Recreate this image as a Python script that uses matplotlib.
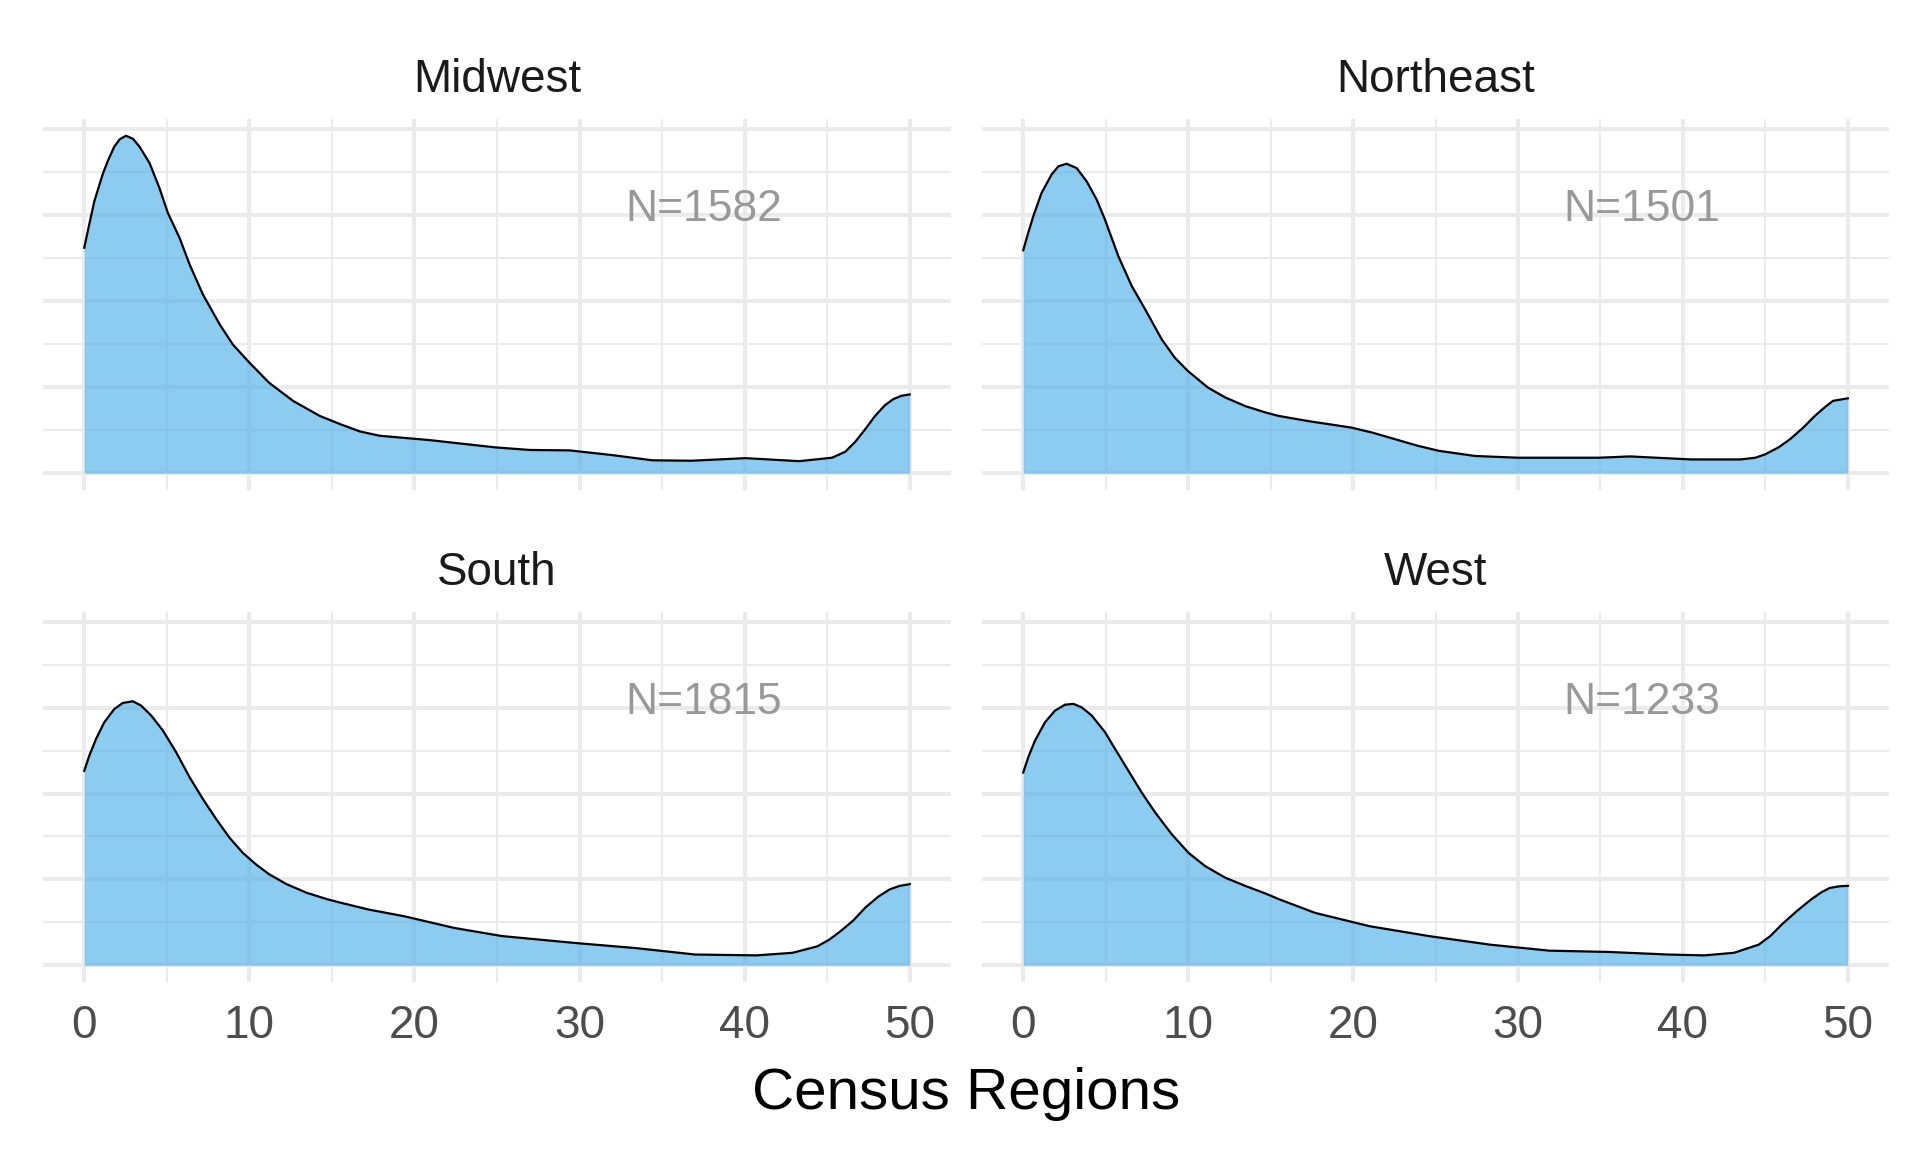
import numpy as np
import matplotlib
matplotlib.use("Agg")
import matplotlib.pyplot as plt

plt.rcParams['font.family'] = ['Liberation Sans', 'DejaVu Sans']

# density curves (x = value, d = density)
regions = ["Midwest", "Northeast", "South", "West"]
counts = [1582, 1501, 1815, 1233]

mw_x = [0, 0.30, 0.61, 1.11, 1.42, 1.82, 2.15, 2.53, 2.95, 3.34, 3.95, 4.55, 5.06, 5.77, 6.38,
        7.19, 8.2, 9.0, 10.0, 11.2, 12.65, 14.27, 15.5, 16.7, 17.9, 20.9, 24.9, 27.0, 29.4,
        32.0, 34.4, 36.8, 40.06, 43.3, 45.3, 46.1, 46.7, 47.3, 47.9, 48.5, 49.0, 49.5, 50]
mw_d = [0.0524, 0.0578, 0.0632, 0.0694, 0.0725, 0.0759, 0.0776, 0.0784, 0.0777, 0.0759, 0.0721,
        0.0663, 0.0605, 0.0547, 0.0485, 0.0415, 0.0346, 0.0299, 0.0257, 0.0210, 0.0168, 0.0133,
        0.0114, 0.0097, 0.0087, 0.0077, 0.0060, 0.0054, 0.0053, 0.0042, 0.0030, 0.0029, 0.0035,
        0.0028, 0.0036, 0.0050, 0.0073, 0.0102, 0.0133, 0.0158, 0.0172, 0.0180, 0.0183]

ne_x = [0, 0.30, 0.61, 1.11, 1.72, 2.13, 2.63, 3.24, 3.85, 4.45, 4.96, 5.77, 6.58, 7.39, 8.4,
        9.2, 10.0, 11.2, 12.25, 13.46, 14.7, 15.5, 17.3, 19.9, 21.2, 22.55, 23.9, 25.2, 27.4,
        30.0, 34.9, 36.8, 40.5, 43.5, 44.4, 45.0, 45.8, 46.5, 47.3, 48.0, 48.6, 49.1, 50]
ne_d = [0.0518, 0.0558, 0.0597, 0.0651, 0.0694, 0.0713, 0.0719, 0.0709, 0.0678, 0.0636, 0.0589,
        0.0504, 0.0435, 0.0381, 0.0311, 0.0268, 0.0237, 0.0199, 0.0176, 0.0156, 0.0141, 0.0133,
        0.0121, 0.0106, 0.0094, 0.0079, 0.0064, 0.0052, 0.0040, 0.0036, 0.0036, 0.0039, 0.0032,
        0.0032, 0.0036, 0.0044, 0.0060, 0.0079, 0.0106, 0.0133, 0.0153, 0.0168, 0.0174]

so_x = [0, 0.30, 0.71, 1.21, 1.82, 2.33, 2.94, 3.44, 4.05, 4.76, 5.57, 6.38, 7.19, 8.0, 8.8,
        9.6, 10.4, 11.2, 12.25, 13.46, 14.7, 15.5, 17.2, 19.4, 22.4, 25.3, 29.7, 33.4, 37.0,
        40.7, 42.9, 44.4, 45.1, 45.8, 46.6, 47.3, 48.1, 48.8, 49.4, 50]
so_d = [0.0453, 0.0488, 0.0527, 0.0566, 0.0597, 0.0611, 0.0615, 0.0605, 0.0582, 0.0547, 0.0496,
        0.0438, 0.0387, 0.0340, 0.0297, 0.0262, 0.0235, 0.0212, 0.0189, 0.0169, 0.0154, 0.0146,
        0.0130, 0.0114, 0.0087, 0.0068, 0.0052, 0.0040, 0.0025, 0.0023, 0.0029, 0.0044, 0.0059,
        0.0079, 0.0105, 0.0134, 0.0160, 0.0177, 0.0185, 0.0189]

we_x = [0, 0.30, 0.71, 1.32, 1.92, 2.53, 3.04, 3.54, 4.15, 4.96, 5.57, 6.38, 7.19, 8.0, 9.01,
        10.02, 11.03, 12.25, 13.46, 14.7, 15.5, 17.7, 21.0, 24.6, 28.3, 31.9, 35.5, 39.1, 41.3,
        43.1, 44.6, 45.3, 46.0, 46.9, 47.8, 48.4, 48.9, 49.5, 50]
we_d = [0.0449, 0.0484, 0.0523, 0.0566, 0.0593, 0.0607, 0.0609, 0.0601, 0.0582, 0.0543, 0.0504,
        0.0453, 0.0402, 0.0356, 0.0305, 0.0262, 0.0231, 0.0204, 0.0185, 0.0167, 0.0154, 0.0122,
        0.0091, 0.0068, 0.0048, 0.0034, 0.0031, 0.0025, 0.0023, 0.0029, 0.0048, 0.0068, 0.0095,
        0.0126, 0.0154, 0.0170, 0.0180, 0.0184, 0.0185]

curves = [(mw_x, mw_d), (ne_x, ne_d), (so_x, so_d), (we_x, we_d)]

W, H = 1920, 1152
fig = plt.figure(figsize=(19.2, 11.52), dpi=100)

# panel boxes in pixels: (left, top, right, bottom)
boxes = [(43, 119, 951, 490), (982, 119, 1889, 490),
         (43, 612, 951, 982), (982, 612, 1889, 982)]

grid_c = "#EBEBEB"
for i, (name, n, (xs, ds)) in enumerate(zip(regions, counts, curves)):
    l, t, r, b = boxes[i]
    ax = fig.add_axes([l / W, 1 - b / H, (r - l) / W, (b - t) / H])
    ax.set_xlim(-2.5, 52.5)
    ax.set_ylim(-0.0039, 0.0823)
    for s in ax.spines.values():
        s.set_visible(False)
    ax.set_xticks([0, 10, 20, 30, 40, 50])
    ax.set_xticks([5, 15, 25, 35, 45], minor=True)
    ax.set_yticks([0, 0.02, 0.04, 0.06, 0.08])
    ax.set_yticks([0.01, 0.03, 0.05, 0.07], minor=True)
    ax.grid(which="major", color=grid_c, linewidth=2.9)
    ax.grid(which="minor", color=grid_c, linewidth=1.45)
    ax.set_axisbelow(True)
    ax.tick_params(which="both", length=0, left=False, labelleft=False)
    if i >= 2:
        ax.tick_params(axis="x", labelsize=33, labelcolor="#4D4D4D", pad=16)
    else:
        ax.tick_params(axis="x", labelbottom=False)

    ax.fill_between(xs, 0, ds, color="#56B4E9", alpha=0.68, linewidth=0)
    ax.plot(xs, ds, color="black", linewidth=1.6, solid_joinstyle="round")
    ax.text(37.5, 0.0585, "N=%d" % n, color="#999999", fontsize=32,
            ha="center", va="baseline")

    fig.text((l + r) / 2 / W, 1 - (t - 27) / H, name, fontsize=33,
             color="#1A1A1A", ha="center", va="baseline")

fig.text(966 / W, 1 - 1109 / H, "Census Regions", fontsize=42,
         color="black", ha="center", va="baseline")

fig.savefig("out.png", dpi=100, facecolor="white")
